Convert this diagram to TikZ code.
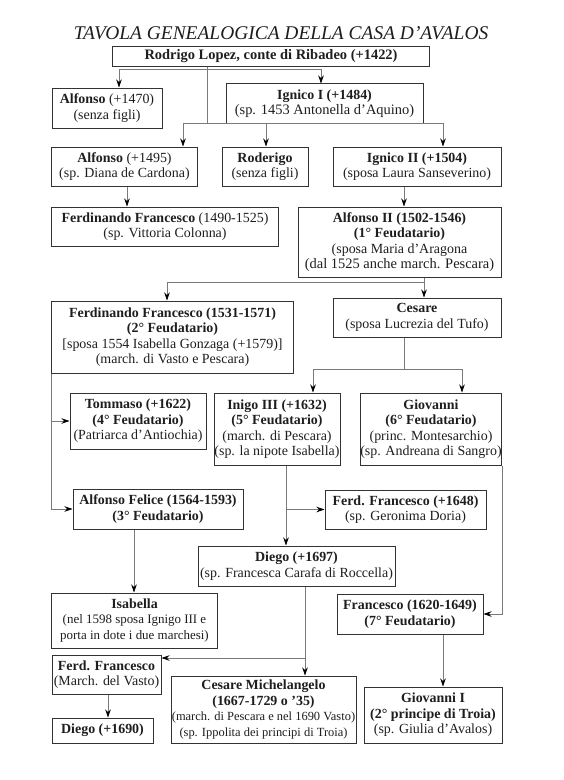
\documentclass[tikz,border=0pt]{standalone}
\usepackage{fontspec}
\setmainfont{Liberation Serif}
\usetikzlibrary{arrows.meta}
\definecolor{ink}{HTML}{1E1E1E}
\definecolor{boxline}{HTML}{333333}
\definecolor{connline}{HTML}{7A7A7A}
\begin{document}
\begin{tikzpicture}[x=1bp,y=-1bp,
  box/.style={draw=boxline, line width=1bp, inner sep=0pt, align=center, text=ink,
    font=\fontsize{14}{15.6}\selectfont},
  conn/.style={draw=connline, line width=0.8bp},
  arr/.style={conn, -{Stealth[length=8bp,width=5.5bp,inset=2.5bp,color=black]}},
  titlestyle/.style={text=ink, inner sep=0pt, font=\fontsize{19.5}{22}\selectfont\itshape}
]
\useasboundingbox (0,0) rectangle (564,780);
\fill[white] (0,0) rectangle (564,780);

\node[titlestyle, anchor=base] (title) at (281,40) {TAVOLA GENEALOGICA DELLA CASA D’AVALOS};

\node[box, minimum width=316bp, minimum height=19bp, font=\fontsize{14.5}{15.6}\selectfont] (rod) at (271,56.5)
  {\textbf{Rodrigo Lopez, conte di Ribadeo (+1422)}};
\node[box, minimum width=110bp, minimum height=40bp] (a1470) at (107,108)
  {\textbf{Alfonso} (+1470)\\(senza figli)};
\node[box, minimum width=197bp, minimum height=39bp] (ign1) at (324.5,103.5)
  {\textbf{Ignico I (+1484)}\\{\fontsize{14.5}{15.6}\selectfont(sp. 1453 Antonella d’Aquino)}};
\node[box, minimum width=145bp, minimum height=39bp] (a1495) at (124.5,166.5)
  {\textbf{Alfonso} (+1495)\\(sp. Diana de Cardona)};
\node[box, minimum width=86bp, minimum height=39bp] (roder) at (265,166.5)
  {\textbf{Roderigo}\\(senza figli)};
\node[box, minimum width=168bp, minimum height=39bp] (ign2) at (417,166.5)
  {\textbf{Ignico II (+1504)}\\(sposa Laura Sanseverino)};
\node[box, minimum width=226bp, minimum height=39bp] (ff1490) at (165,226.5)
  {\textbf{Ferdinando Francesco} (1490-1525)\\(sp. Vittoria Colonna)};
\node[box, minimum width=203bp, minimum height=70bp] (alf2) at (399.5,242)
  {\textbf{Alfonso II (1502-1546)}\\\textbf{(1° Feudatario)}\\(sposa Maria d’Aragona\\{\fontsize{14.5}{15.6}\selectfont(dal 1525 anche march. Pescara)}};
\node[box, minimum width=241bp, minimum height=72bp] (ff1531) at (172.5,337)
  {\textbf{Ferdinando Francesco (1531-1571)}\\\textbf{(2° Feudatario)}\\{[}sposa 1554 Isabella Gonzaga (+1579)]\\(march. di Vasto e Pescara)};
\node[box, minimum width=168bp, minimum height=39bp] (ces) at (417,317.5)
  {\textbf{Cesare}\\(sposa Lucrezia del Tufo)};
\node[box, minimum width=136bp, minimum height=56bp] (tom) at (138,421)
  {\textbf{Tommaso (+1622)}\\\textbf{(4° Feudatario)}\\(Patriarca d’Antiochia)};
\node[box, minimum width=126bp, minimum height=72bp] (inigo) at (277,429)
  {\textbf{Inigo III (+1632)}\\\textbf{(5° Feudatario)}\\(march. di Pescara)\\(sp. la nipote Isabella)};
\node[box, minimum width=140bp, minimum height=72bp] (giov) at (431,429)
  {\textbf{Giovanni}\\\textbf{(6° Feudatario)}\\(princ. Montesarchio)\\(sp. Andreana di Sangro)};
\node[box, minimum width=170bp, minimum height=40bp] (alff) at (158,509)
  {\textbf{Alfonso Felice (1564-1593)}\\\textbf{(3° Feudatario)}};
\node[box, minimum width=161bp, minimum height=39bp] (ff1648) at (405.5,509.5)
  {\textbf{Ferd. Francesco (+1648)}\\(sp. Geronima Doria)};
\node[box, minimum width=197bp, minimum height=40bp] (d1697) at (296.5,566)
  {\textbf{Diego (+1697)}\\(sp. Francesca Carafa di Roccella)};
\node[box, minimum width=165bp, minimum height=55bp] (isab) at (134.5,620.5)
  {\textbf{Isabella}\\{\fontsize{13}{15.6}\selectfont(nel 1598 sposa Ignigo III e}\\{\fontsize{13}{15.6}\selectfont porta in dote i due marchesi)}};
\node[box, minimum width=146bp, minimum height=40bp] (fran) at (410,614)
  {\textbf{Francesco (1620-1649)}\\\textbf{(7° Feudatario)}};
\node[box, minimum width=109bp, minimum height=39bp] (ffv) at (106.5,674.5)
  {\textbf{Ferd. Francesco}\\(March. del Vasto)};
\node[box, minimum width=185bp, minimum height=67bp] (cmich) at (263.5,709.5)
  {\textbf{Cesare Michelangelo}\\\textbf{(1667-1729 o ’35)}\\{\fontsize{12.5}{15}\selectfont(march. di Pescara e nel 1690 Vasto)}\\{\fontsize{12.5}{15}\selectfont(sp. Ippolita dei principi di Troia)}};
\node[box, minimum width=138bp, minimum height=56bp] (giov1) at (433,715)
  {\textbf{Giovanni I}\\\textbf{(2° principe di Troia)}\\(sp. Giulia d’Avalos)};
\node[box, minimum width=101bp, minimum height=25bp] (d1690) at (102.5,730.5)
  {\textbf{Diego (+1690)}};

% junction coordinates
\coordinate (v0) at (207,123);
\coordinate (h1a) at (119,69);
\coordinate (h1b) at (321,69);
\coordinate (h2a) at (183,123);
\coordinate (h2c) at (266,123);
\coordinate (h2b) at (443,123);
\coordinate (x127) at (127,0);
\coordinate (x404) at (404,0);
\coordinate (j424) at (424,282);
\coordinate (j167) at (167,282);
\coordinate (cc) at (404,369);
\coordinate (ca) at (313,369);
\coordinate (cb) at (462,369);
\coordinate (x286) at (286,0);
\coordinate (x134) at (134,0);
\coordinate (j305) at (305,658);
\coordinate (x443) at (443,0);
\coordinate (x108) at (108,0);

% connectors
\draw[conn] (rod.south -| v0) -- (v0);
\draw[conn] (h1a) -- (h1b);
\draw[arr] (h1a) -- (h1a |- a1470.north);
\draw[arr] (h1b) -- (h1b |- ign1.north);
\draw[conn] (h2a) -- (h2b);
\draw[arr] (h2a) -- (h2a |- a1495.north);
\draw[arr] (h2c) -- (h2c |- roder.north);
\draw[arr] (h2b) -- (h2b |- ign2.north);
\draw[arr] (a1495.south -| x127) -- (ff1490.north -| x127);
\draw[arr] (ign2.south -| x404) -- (alf2.north -| x404);
\draw[arr] (alf2.south -| j424) -- (ces.north -| j424);
\draw[conn] (j424) -- (j167);
\draw[arr] (j167) -- (j167 |- ff1531.north);
\draw[conn] (ces.south -| cc) -- (cc);
\draw[conn] (ca) -- (cb);
\draw[arr] (ca) -- (ca |- inigo.north);
\draw[arr] (cb) -- (cb |- giov.north);
\draw[arr] (ff1531.south west) |- (alff.west);
\draw[arr] (ff1531.south west |- tom.west) -- (tom.west);
\draw[arr] (inigo.south -| x286) -- (d1697.north -| x286);
\draw[arr] (x286 |- ff1648.west) -- (ff1648.west);
\draw[arr] (giov.south east) |- (fran.east);
\draw[arr] (alff.south -| x134) -- (isab.north -| x134);
\draw[arr] (d1697.south -| j305) -- (cmich.north -| j305);
\draw[arr] (j305) -- (j305 -| ffv.east);
\draw[arr] (fran.south -| x443) -- (giov1.north -| x443);
\draw[arr] (ffv.south -| x108) -- (d1690.north -| x108);
\end{tikzpicture}
\end{document}
